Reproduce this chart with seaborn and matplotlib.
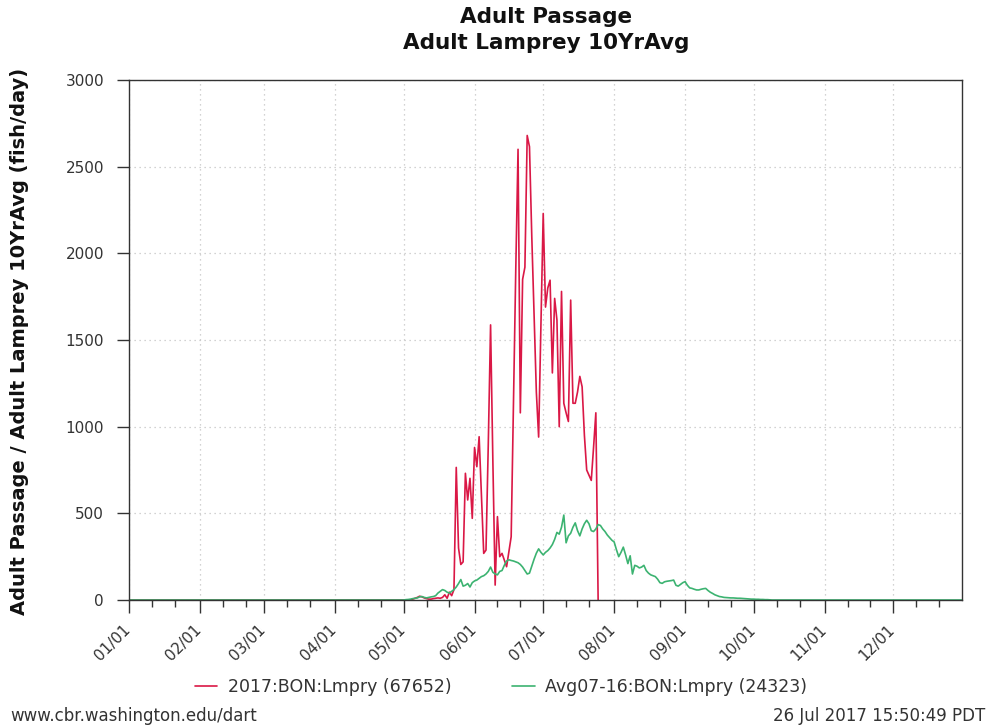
import numpy as np
import pandas as pd
import matplotlib
matplotlib.use("Agg")
import matplotlib.pyplot as plt
import matplotlib.dates as mdates
import matplotlib.transforms as mtransforms
import seaborn as sns

# ---------------- data ----------------
series_names = ["2017:BON:Lmpry (67652)", "Avg07-16:BON:Lmpry (24323)"]

# 2017 daily counts, May 01 .. Jul 25 (zeros before May 01)
red_vals = [
    0, 0, 0, 0, 5, 10, 15, 22, 18, 12,
    8, 5, 5, 8, 10, 12, 10, 15, 30, 10,
    45, 25, 60, 765, 300, 205, 220, 731, 577, 702,
    471, 880, 769, 942, 600, 269, 288, 900, 1587, 800,
    86, 481, 250, 269, 230, 192, 280, 365, 1150, 1900,
    2600, 1080, 1850, 1920, 2680, 2615, 2100, 1650, 1200, 940,
    1600, 2230, 1690, 1800, 1845, 1310, 1740, 1615, 1000, 1780,
    1135, 1080, 1030, 1730, 1135, 1135, 1200, 1290, 1230, 950,
    750, 720, 690, 880, 1080, 0,
]

# 10-year average daily counts, May 01 .. Oct 08 (zeros elsewhere)
green_vals = [
    0, 2, 3, 5, 8, 10, 12, 18, 20, 15,
    12, 15, 18, 20, 25, 40, 50, 60, 55, 45,
    40, 50, 60, 75, 95, 118, 80, 85, 95, 75,
    100, 110, 115, 125, 135, 140, 150, 165, 190, 160,
    150, 145, 165, 170, 200, 225, 232, 228, 225, 220,
    215, 205, 190, 170, 150, 155, 195, 235, 270, 295,
    275, 260, 275, 285, 300, 320, 350, 390, 380, 420,
    490, 330, 370, 385, 420, 445, 400, 370, 410, 440,
    460, 440, 400, 395, 410, 435, 430, 410, 395, 375,
    360, 345, 335, 290, 250, 275, 305, 260, 210, 255,
    150, 200, 195, 185, 190, 200, 170, 155, 145, 140,
    135, 120, 100, 96, 105, 108, 110, 112, 115, 85,
    80, 90, 100, 106, 85, 70, 67, 62, 58, 58,
    62, 65, 67, 55, 45, 38, 30, 25, 20, 18,
    15, 14, 13, 12, 12, 11, 10, 10, 9, 8,
    7, 6, 5, 5, 4, 4, 3, 3, 2, 2,
    1,
]

title_lines = ["Adult Passage", "Adult Lamprey 10YrAvg"]
y_label = "Adult Passage / Adult Lamprey 10YrAvg (fish/day)"
footer_left = "www.cbr.washington.edu/dart"
footer_right = "26 Jul 2017 15:50:49 PDT"
y_ticks = [0, 500, 1000, 1500, 2000, 2500, 3000]

red_color = "#DA1846"
green_color = "#3CB371"

# ---------------- build frame ----------------
year_days = pd.date_range("2017-01-01", "2017-12-31")
red = pd.Series(red_vals, index=pd.date_range("2017-05-01", periods=len(red_vals)))
red = red.reindex(pd.date_range("2017-01-01", red.index[-1]), fill_value=0)
green = pd.Series(green_vals, index=pd.date_range("2017-05-01", periods=len(green_vals)))
green = green.reindex(year_days, fill_value=0)

df = pd.concat([
    pd.DataFrame({"date": red.index, "value": red.values, "series": series_names[0]}),
    pd.DataFrame({"date": green.index, "value": green.values, "series": series_names[1]}),
], ignore_index=True)

# ---------------- plot ----------------
sns.set_theme(style="white")
plt.rcParams["font.family"] = ["DejaVu Sans"]

fig = plt.figure(figsize=(9.92, 7.27), dpi=100)
ax = fig.add_axes([129 / 992, 1 - 600 / 727, (962 - 129) / 992, (600 - 80) / 727])

sns.lineplot(data=df, x="date", y="value", hue="series", hue_order=series_names,
             palette=[red_color, green_color], linewidth=1.2, ax=ax,
             legend=False, estimator=None)

ax.set_xlim(pd.Timestamp("2017-01-01"), pd.Timestamp("2017-12-31"))
ax.set_ylim(0, 3000)
ax.set_yticks(y_ticks)
ax.set_xlabel("")
ax.set_ylabel("")

ax.xaxis.set_major_locator(mdates.MonthLocator())
ax.xaxis.set_major_formatter(mdates.DateFormatter("%m/%d"))
ax.xaxis.set_minor_locator(mdates.DayLocator(bymonthday=[11, 21]))

ax.tick_params(axis="both", which="major", direction="out", length=9, width=1,
               color="#333333", labelcolor="#333333", labelsize=11, bottom=True, left=True)
ax.tick_params(axis="y", which="major", pad=9)
ax.tick_params(axis="x", which="minor", direction="out", length=5, width=1,
               color="#333333", bottom=True)
offset = mtransforms.ScaledTranslation(-0.06, -0.05, fig.dpi_scale_trans)
for lab in ax.get_xticklabels():
    lab.set_rotation(45)
    lab.set_ha("right")
    lab.set_rotation_mode("anchor")
    lab.set_transform(lab.get_transform() + offset)

ax.grid(True, which="major", linestyle=(0, (1, 3)), color="#c4c4c4", linewidth=0.9)
for sp in ax.spines.values():
    sp.set_visible(True)
    sp.set_color("#333333")
    sp.set_linewidth(1.0)

# titles
fig.text(546 / 992, 1 - 17 / 727, title_lines[0], ha="center", va="center",
         fontsize=15.5, fontweight="bold", color="#111111")
fig.text(546 / 992, 1 - 43 / 727, title_lines[1], ha="center", va="center",
         fontsize=15.5, fontweight="bold", color="#111111")

fig.text(20 / 992, 1 - 341 / 727, y_label, rotation=90, ha="center", va="center",
         fontsize=14, fontweight="bold", color="#111111")

# legend
handles = ax.get_lines()[:2]
fig.legend(handles, series_names, loc="center", bbox_to_anchor=(501 / 992, 1 - 687 / 727),
           ncol=2, frameon=False, fontsize=12.5, handlelength=1.3, handletextpad=0.6,
           columnspacing=3.5, labelcolor="#333333")

# footer
fig.text(10 / 992, 1 - 716 / 727, footer_left, ha="left", va="center",
         fontsize=12, color="#333333")
fig.text(985 / 992, 1 - 716 / 727, footer_right, ha="right", va="center",
         fontsize=12, color="#333333")

fig.savefig("out.png", dpi=100)
